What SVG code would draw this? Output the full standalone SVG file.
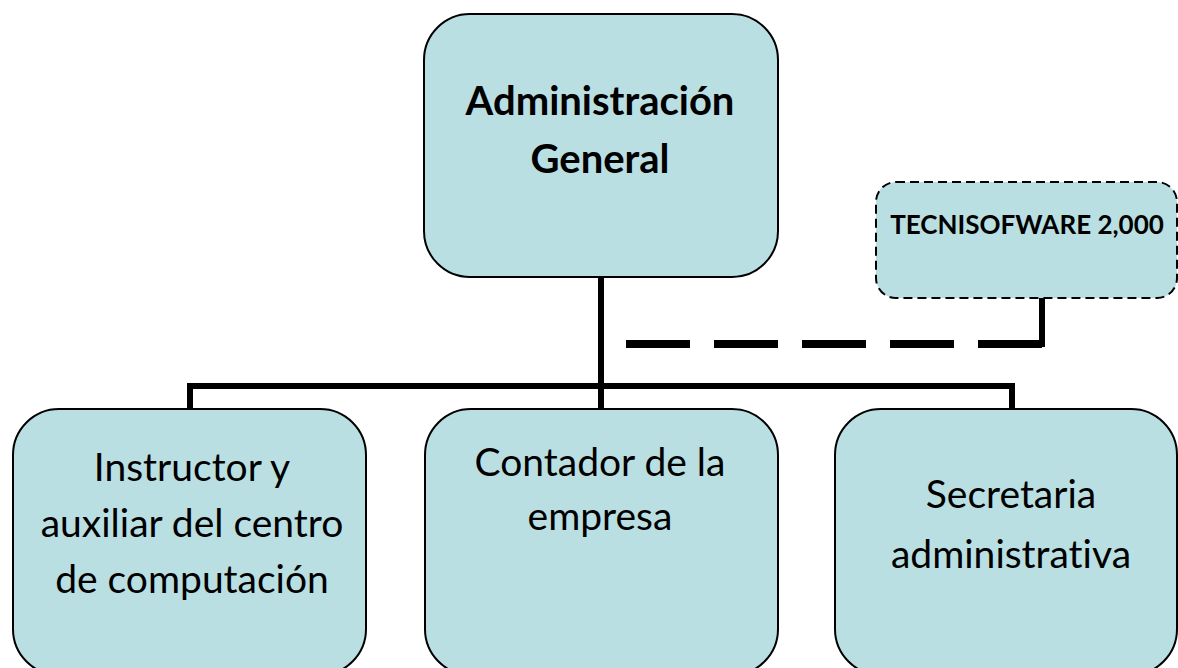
<svg xmlns="http://www.w3.org/2000/svg" width="1178" height="668" viewBox="0 0 1178 668">
<style>
.box{fill:#B9DFE3;stroke:#000;stroke-width:2}
.dbox{fill:#B9DFE3;stroke:#000;stroke-width:2;stroke-dasharray:9 5}
.t{font-family:Lato,"Open Sans","Liberation Sans",sans-serif;font-size:39px;fill:#000;text-anchor:middle;font-variant-ligatures:none}
.b{font-weight:bold;font-size:40px}
.s{font-size:26px}
.conn{fill:none;stroke:#000;stroke-width:6}
.dash{fill:none;stroke:#000;stroke-width:8;stroke-dasharray:64 24}
</style>
<rect width="1178" height="668" fill="#fff"/>
<g id="connectors">
<line class="conn" x1="601" y1="277" x2="601" y2="409"/>
<polyline class="conn" points="190,409 190,386 1012,386 1012,409"/>
<line class="dash" x1="626" y1="344" x2="1042" y2="344"/>
<polyline class="conn" points="1038,344 1042,344 1042,288"/>
</g>
<g id="admin">
<rect class="box" x="424" y="14" width="354" height="263" rx="46"/>
<text class="t b" x="600" y="115">Administración</text>
<text class="t b" x="600" y="173">General</text>
</g>
<g id="tecnisofware">
<rect class="dbox" x="876" y="182" width="301" height="116" rx="20"/>
<text class="t b s" x="1027" y="234">TECNISOFWARE 2,000</text>
</g>
<g id="instructor">
<rect class="box" x="13" y="409" width="353" height="266" rx="46"/>
<text class="t" x="192" y="481">Instructor y</text>
<text class="t" x="192" y="537">auxiliar del centro</text>
<text class="t" x="192" y="593">de computación</text>
</g>
<g id="contador">
<rect class="box" x="425" y="409" width="353" height="266" rx="46"/>
<text class="t" x="600" y="476">Contador de la</text>
<text class="t" x="600" y="530">empresa</text>
</g>
<g id="secretaria">
<rect class="box" x="835" y="409" width="342" height="266" rx="46"/>
<text class="t" x="1011" y="508">Secretaria</text>
<text class="t" x="1011" y="568">administrativa</text>
</g>
</svg>
